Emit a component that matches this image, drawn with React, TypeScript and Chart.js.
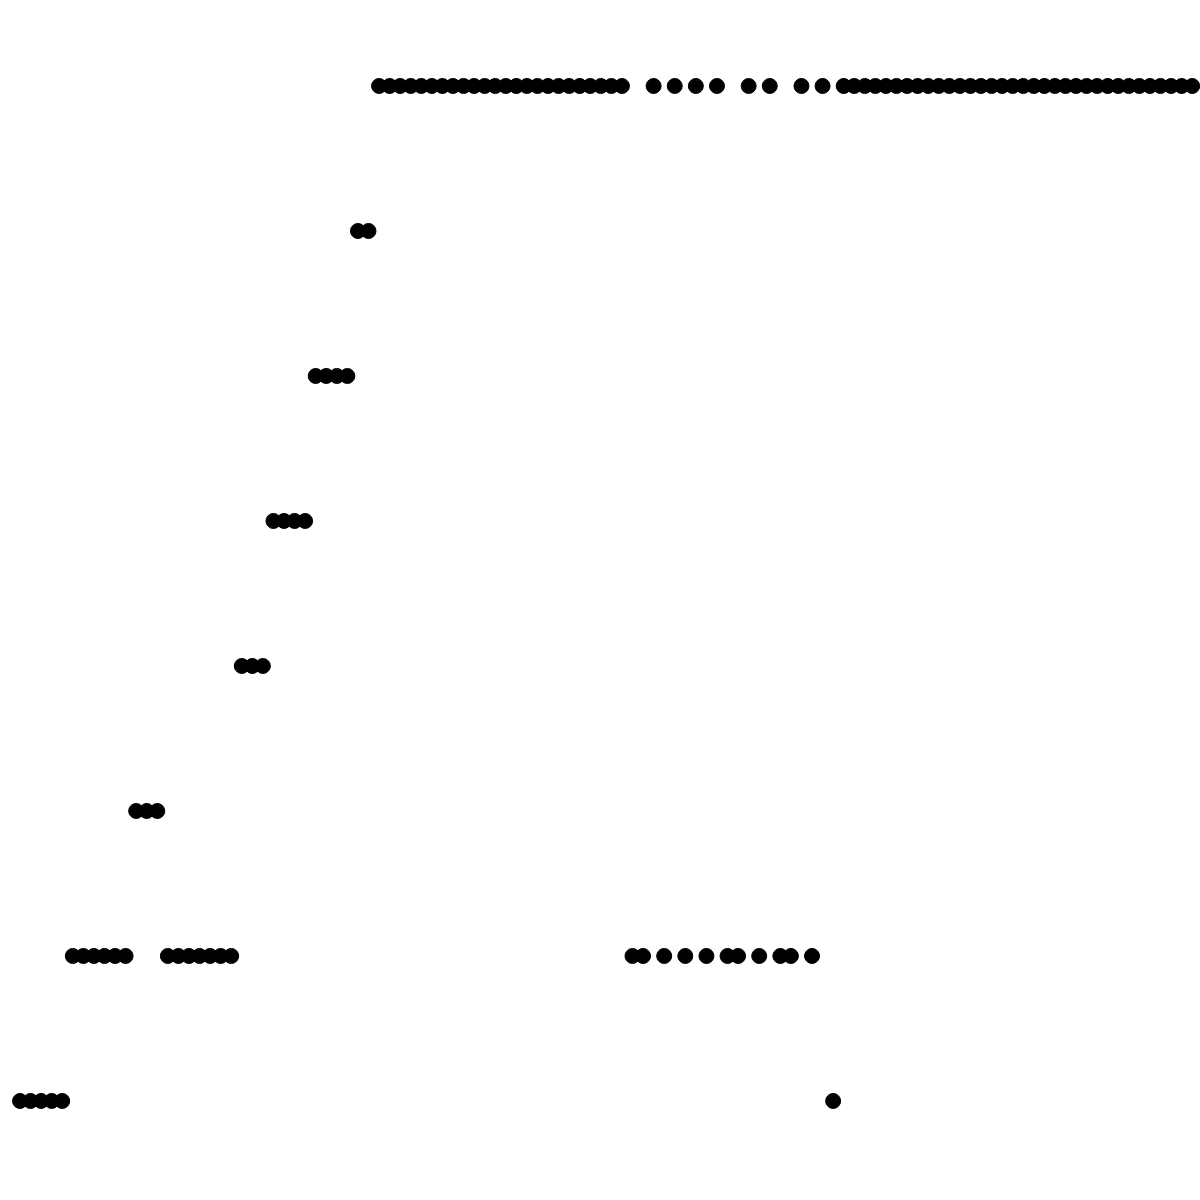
import React, { useEffect, useRef } from "react";
import { Chart, registerables } from "chart.js";

Chart.register(...registerables);

// Sequence position of each observation (x) and its level (y)
const levels: number[] = [
  0, 0, 0, 0, 0,
  1, 1, 1, 1, 1, 1,
  2, 2, 2,
  1, 1, 1, 1, 1, 1, 1,
  3, 3, 3,
  4, 4, 4, 4,
  5, 5, 5, 5,
  6, 6,
  7, 7, 7, 7, 7, 7, 7, 7, 7, 7, 7, 7, 7, 7, 7, 7, 7, 7, 7, 7, 7, 7, 7, 7,
  1, 1, 7, 1, 7, 1, 7, 1, 7, 1, 1, 7, 1, 7, 1, 1, 7, 1, 7, 0,
  7, 7, 7, 7, 7, 7, 7, 7, 7, 7, 7, 7, 7, 7, 7, 7, 7,
  7, 7, 7, 7, 7, 7, 7, 7, 7, 7, 7, 7, 7, 7, 7, 7, 7,
];
const positions: number[] = levels.map((_, i) => i);

export default function App() {
  const ref = useRef<HTMLCanvasElement | null>(null);
  useEffect(() => {
    if (!ref.current) return;
    const chart = new Chart(ref.current, {
      type: "scatter",
      data: {
        datasets: [
          {
            data: positions.map((x, i) => ({ x, y: levels[i] })),
            backgroundColor: "#000000",
            borderColor: "#000000",
            borderWidth: 1,
            pointRadius: 7.5,
            clip: false as any,
          },
        ],
      },
      options: {
        animation: false,
        responsive: true,
        maintainAspectRatio: false,
        layout: { padding: 0, autoPadding: false },
        plugins: { legend: { display: false }, tooltip: { enabled: false } },
        scales: {
          x: { type: "linear", display: false, min: -1.894, max: 111.74 },
          y: { type: "linear", display: false, min: -0.683, max: 7.593 },
        },
      },
    });
    return () => chart.destroy();
  }, []);
  return (
    <div style={{ position: "absolute", left: 0, top: 0, width: 1200, height: 1200, background: "#fff" }}>
      <canvas ref={ref} />
    </div>
  );
}
